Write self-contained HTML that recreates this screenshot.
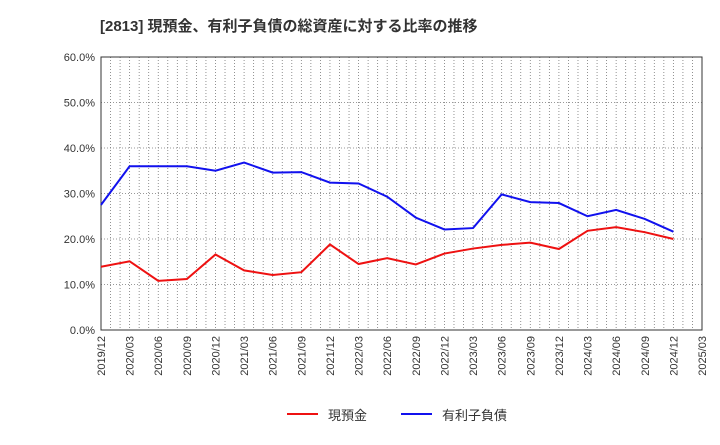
<!DOCTYPE html>
<html><head><meta charset="utf-8"><style>
body{margin:0;background:#fff;font-family:"Liberation Sans","Noto Sans CJK JP",sans-serif;}
</style></head><body>
<svg width="720" height="440" xmlns="http://www.w3.org/2000/svg">
<text x="100" y="31" font-size="15" font-weight="bold" fill="#333">[2813]  現預金、有利子負債の総資産に対する比率の推移</text>
<g id="grid"></g>
<g id="axes"></g>
<g id="series"></g>
<g>
<g><line x1="287" y1="414" x2="318" y2="414" stroke="#ee1111" stroke-width="2"/><text x="328" y="420" font-size="13" fill="#333">現預金</text></g>
<g><line x1="401" y1="414" x2="432" y2="414" stroke="#1111ee" stroke-width="2"/><text x="442" y="420" font-size="13" fill="#333">有利子負債</text></g>
</g>
</svg>
<script>
const xLabels=["2019/12","2020/03","2020/06","2020/09","2020/12","2021/03","2021/06","2021/09","2021/12","2022/03","2022/06","2022/09","2022/12","2023/03","2023/06","2023/09","2023/12","2024/03","2024/06","2024/09","2024/12","2025/03"];
const yTicks=[0,10,20,30,40,50,60];
const cash=[13.9,15.1,10.8,11.2,16.6,13.1,12.1,12.7,18.8,14.5,15.8,14.4,16.8,17.9,18.7,19.2,17.8,21.8,22.6,21.5,20.0];
const debt=[27.5,36.0,36.0,36.0,35.0,36.8,34.6,34.7,32.4,32.2,29.3,24.7,22.1,22.4,29.8,28.1,27.9,25.0,26.4,24.4,21.6];
const L=101,R=702,T=57,B=330;
const xs=i=>L+(R-L)*i/(xLabels.length-1);
const ys=v=>B-(B-T)*v/60;
const NS="http://www.w3.org/2000/svg";
function mk(tag,attrs,parent){const e=document.createElementNS(NS,tag);for(const k in attrs)e.setAttribute(k,attrs[k]);parent.appendChild(e);return e;}
const grid=document.getElementById('grid'),axes=document.getElementById('axes'),ser=document.getElementById('series');
for(let m=1;m<(xLabels.length-1)*3;m++){
 const x=xs(m/3);
 const g=mk('line',{x1:x,x2:x,y1:T,y2:B,stroke:'#777','stroke-dasharray':'1,2','stroke-width':0.8},grid);
 
 
}
xLabels.forEach((lab,i)=>{
 const x=xs(i);
 const t=mk('text',{x:0,y:0,'font-size':11,fill:'#333','text-anchor':'end',transform:`translate(${x+4},${B+6}) rotate(-90)`},axes);
 t.textContent=lab;
 
 
});
yTicks.forEach(v=>{
 const y=ys(v);
 const g=mk('line',{x1:L,x2:R,y1:y,y2:y,stroke:'#777','stroke-dasharray':'1,2','stroke-width':0.8},grid);
 
 
 const t=mk('text',{x:L-6,y:y+4,'font-size':11,fill:'#333','text-anchor':'end'},axes);
 t.textContent=v.toFixed(1)+'%';
 
 
});
const frame=mk('rect',{x:L,y:T,width:R-L,height:B-T,fill:'none',stroke:'#333','stroke-width':1},axes);


function line(data,color,name){
 const p=mk('polyline',{points:data.map((v,i)=>xs(i)+','+ys(v)).join(' '),fill:'none',stroke:color,'stroke-width':2},ser);
 
 
}
line(cash,'#ee1111','cash-line');
line(debt,'#1111ee','debt-line');
</script>
</body></html>
